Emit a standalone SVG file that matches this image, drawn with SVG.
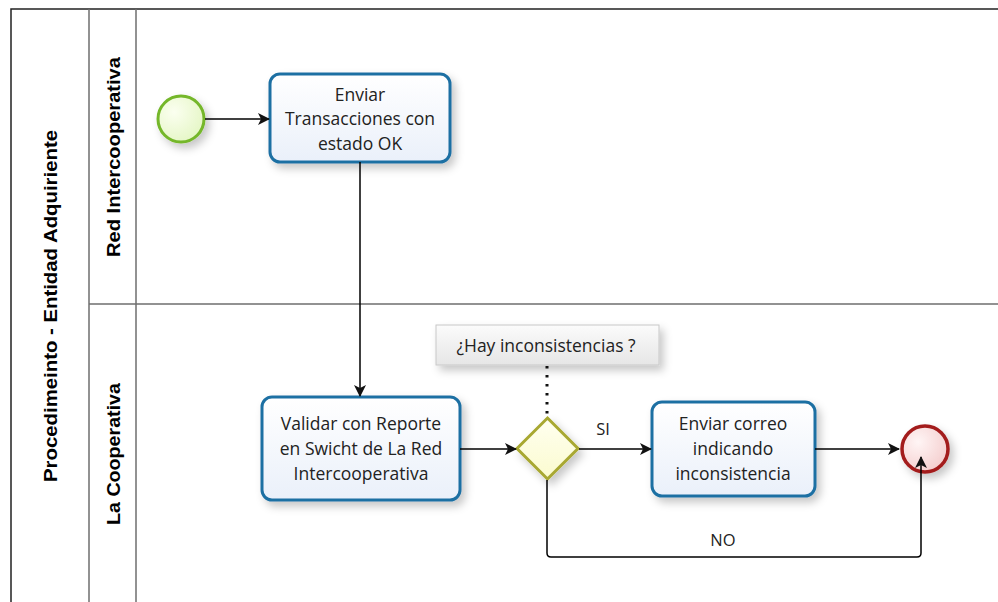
<svg xmlns="http://www.w3.org/2000/svg" width="998" height="602" viewBox="0 0 998 602">
<style>
.lane{fill:none;stroke:#6e6e6e;stroke-width:1.5}
.pool{fill:none;stroke:#222;stroke-width:1.5}
.hdr{font-family:"Liberation Sans",Arial,sans-serif;font-weight:bold;font-size:18px;fill:#000}
.task{fill:url(#gTask);stroke:#1f6fa3;stroke-width:3;filter:url(#sh)}
.tt{font-family:"Open Sans","Noto Sans",sans-serif;font-size:17.5px;fill:#222;text-anchor:middle}
.lbl{font-family:"Open Sans","Noto Sans",sans-serif;font-size:16.5px;fill:#222;text-anchor:middle}
.flow{fill:none;stroke:#000;stroke-width:1.5}
</style>
<defs>
<linearGradient id="gTask" x1="0" y1="0" x2="0" y2="1"><stop offset="0" stop-color="#ffffff"/><stop offset="1" stop-color="#eaf0fa"/></linearGradient>
<radialGradient id="gStart" cx="0.35" cy="0.35" r="0.8"><stop offset="0" stop-color="#fbfff0"/><stop offset="1" stop-color="#e2f5c0"/></radialGradient>
<radialGradient id="gEnd" cx="0.35" cy="0.35" r="0.8"><stop offset="0" stop-color="#fff5f5"/><stop offset="1" stop-color="#f3c9c9"/></radialGradient>
<linearGradient id="gGw" x1="0" y1="0" x2="0" y2="1"><stop offset="0" stop-color="#fffff0"/><stop offset="1" stop-color="#fbfbcf"/></linearGradient>
<linearGradient id="gAnn" x1="0" y1="0" x2="0" y2="1"><stop offset="0" stop-color="#fbfbfb"/><stop offset="1" stop-color="#e6e6e6"/></linearGradient>
<filter id="sh" x="-20%" y="-20%" width="150%" height="160%"><feDropShadow dx="4" dy="5" stdDeviation="4" flood-color="#000" flood-opacity="0.22"/></filter>
<marker id="ar" viewBox="0 0 12 12" refX="11" refY="6" markerWidth="12" markerHeight="12" markerUnits="userSpaceOnUse" orient="auto"><path d="M0,0 L12,6 L0,12 L3,6 Z" fill="#111"/></marker>
</defs>
<rect width="998" height="602" fill="#fff"/>
<g id="pool">
<path class="pool" d="M11,602 V9 H998"/>
<line class="lane" x1="89" y1="9" x2="89" y2="602"/>
<line class="lane" x1="136" y1="9" x2="136" y2="602"/>
<line class="lane" x1="89" y1="304" x2="998" y2="304"/>
<text class="hdr" transform="translate(57,306) rotate(-90)" text-anchor="middle" textLength="352" lengthAdjust="spacingAndGlyphs">Procedimeinto  -  Entidad Adquiriente</text>
</g>
<g id="lane-red"><text class="hdr" transform="translate(120,157) rotate(-90)" text-anchor="middle" textLength="200" lengthAdjust="spacingAndGlyphs">Red Intercooperativa</text></g>
<g id="lane-coop"><text class="hdr" transform="translate(120,454) rotate(-90)" text-anchor="middle" textLength="142" lengthAdjust="spacingAndGlyphs">La Cooperativa</text></g>
<g id="start"><circle cx="181" cy="119" r="23" fill="url(#gStart)" stroke="#74b72a" stroke-width="3" filter="url(#sh)"/></g>
<g id="task1"><rect class="task" x="270" y="74" width="180" height="88" rx="10"/>
<text class="tt" x="360" y="101">Enviar</text><text class="tt" x="360" y="125">Transacciones con</text><text class="tt" x="360" y="150">estado OK</text></g>
<g id="task2"><rect class="task" x="262" y="397" width="198" height="103" rx="10"/>
<text class="tt" x="361" y="430">Validar con Reporte</text><text class="tt" x="361" y="455">en Swicht de La Red</text><text class="tt" x="361" y="480">Intercooperativa</text></g>
<g id="gateway"><path d="M547.5,418 L578,448.5 L547.5,479 L517,448.5 Z" fill="url(#gGw)" stroke="#a8a832" stroke-width="3" filter="url(#sh)"/></g>
<g id="annotation"><rect x="436" y="325" width="223" height="40" fill="url(#gAnn)" stroke="#c8c8c8" stroke-width="1" filter="url(#sh)"/>
<text class="tt" x="546" y="352">¿Hay inconsistencias ?</text></g>
<g id="task3"><rect class="task" x="652" y="402" width="163" height="94" rx="10"/>
<text class="tt" x="733" y="430">Enviar correo</text><text class="tt" x="733" y="455">indicando</text><text class="tt" x="733" y="480">inconsistencia</text></g>
<g id="end"><circle cx="925" cy="449" r="23" fill="url(#gEnd)" stroke="#a31c1c" stroke-width="3.5" filter="url(#sh)"/></g>
<g id="connectors">
<line class="flow" x1="205" y1="119" x2="269" y2="119" marker-end="url(#ar)"/>
<line class="flow" x1="360" y1="162" x2="360" y2="396" marker-end="url(#ar)"/>
<line class="flow" x1="460" y1="449" x2="516" y2="449" marker-end="url(#ar)"/>
<line class="flow" x1="579" y1="449" x2="651" y2="449" marker-end="url(#ar)"/>
<line class="flow" x1="815" y1="449" x2="899" y2="449" marker-end="url(#ar)"/>
<path class="flow" d="M547,480 V553 Q547,557 551,557 H917 Q921,557 921,553 V457" marker-end="url(#ar)"/>
<line x1="547" y1="366" x2="547" y2="416" stroke="#111" stroke-width="3" stroke-dasharray="2.5,6.5"/>
<text class="lbl" x="603" y="435">SI</text>
<text class="lbl" x="723" y="546">NO</text>
</g>
</svg>
